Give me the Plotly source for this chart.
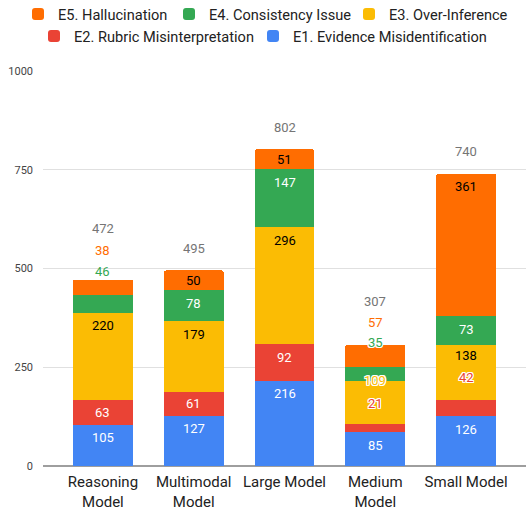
import plotly.graph_objects as go

# ---- data ----
categories = ["Reasoning Model", "Multimodal Model", "Large Model", "Medium Model", "Small Model"]
tick_labels = ["Reasoning<br>Model", "Multimodal<br>Model", "Large Model", "Medium<br>Model", "Small Model"]

series_names = [
    "E1. Evidence Misidentification",
    "E2. Rubric Misinterpretation",
    "E3. Over-Inference",
    "E4. Consistency Issue",
    "E5. Hallucination",
]
e1_values = [105, 127, 216, 85, 126]
e2_values = [63, 61, 92, 21, 42]
e3_values = [220, 179, 296, 109, 138]
e4_values = [46, 78, 147, 35, 73]
e5_values = [38, 50, 51, 57, 361]

y_ticks = [0, 250, 500, 750, 1000]

# ---- styling ----
FONT = "Roboto, Arial, sans-serif"
colors = ["#4285F4", "#EA4335", "#FBBC04", "#34A853", "#FF6D01"]
inside_text_colors = ["#FFFFFF", "#FFFFFF", "#000000", "#FFFFFF", "#000000"]
HALO = ("-1px -1px 0 #fff, 1px -1px 0 #fff, -1px 1px 0 #fff, 1px 1px 0 #fff, "
        "0 1px 0 #fff, 0 -1px 0 #fff, 1px 0 0 #fff, -1px 0 0 #fff")

W, H = 531, 511
M_L, M_R, M_T, M_B = 43, 5, 71, 45
PLOT_W = W - M_L - M_R
PLOT_H = H - M_T - M_B
PX_PER_UNIT = PLOT_H / 1000  # plot height / y range

# legend entries laid out in two centred rows (E5 E4 E3 / E2 E1):
# (legend id, left edge of the entry text in px, row centre in px), E1..E5
legend_slots = [
    ("legend6", 286, 36),
    ("legend5", 67, 36),
    ("legend4", 382, 14),
    ("legend3", 202, 14),
    ("legend2", 51, 14),
]

# label placement tweaks: pixel offset of the label centre above the segment top,
# and whether the label is drawn in the series colour with a white halo
label_tweaks = {
    ("Reasoning Model", 3): (23, False),
    ("Reasoning Model", 4): (29, False),
    ("Medium Model", 1): (21, True),
    ("Medium Model", 2): (1, True),
    ("Medium Model", 3): (25, True),
    ("Medium Model", 4): (22, False),
    ("Small Model", 1): (22, True),
}
inside_shift_override = {("Small Model", 2): -10}
total_shift = {"Reasoning Model": 51, "Medium Model": 43}

all_values = [e1_values, e2_values, e3_values, e4_values, e5_values]

fig = go.Figure()
for j, (name, vals) in enumerate(zip(series_names, all_values)):
    fig.add_trace(go.Bar(
        x=categories, y=vals, name=name,
        marker=dict(color=colors[j], line=dict(width=0)),
        legend=legend_slots[j][0],
        showlegend=True,
        hoverinfo="skip",
    ))

annotations = []
for i, cat in enumerate(categories):
    base = 0
    for j, vals in enumerate(all_values):
        v = vals[i]
        top = base + v
        key = (cat, j)
        if key in label_tweaks:
            shift, halo = label_tweaks[key]
            font = dict(family=FONT, size=13, color=colors[j])
            if halo:
                font["shadow"] = HALO
            annotations.append(dict(x=cat, y=top, yshift=shift, text=str(v),
                                    showarrow=False, yanchor="middle", font=font))
        else:
            if key in inside_shift_override:
                y, shift = top, inside_shift_override[key]
            elif v * PX_PER_UNIT < 26:
                y, shift = base + v / 2, 0
            else:
                y, shift = top, -13
            annotations.append(dict(x=cat, y=y, yshift=shift, text=str(v),
                                    showarrow=False, yanchor="middle",
                                    font=dict(family=FONT, size=13, color=inside_text_colors[j])))
        base = top
    annotations.append(dict(x=cat, y=base, yshift=total_shift.get(cat, 22), text=str(base),
                            showarrow=False, yanchor="middle",
                            font=dict(family=FONT, size=13, color="#757575")))


def legend_box(text_left_px, row_center_px):
    left_px = text_left_px - 33
    return dict(orientation="h", xref="paper", yref="paper",
                x=(left_px - M_L) / PLOT_W, xanchor="left",
                y=1 + (M_T - row_center_px) / PLOT_H, yanchor="middle",
                font=dict(family=FONT, size=14.6, color="#222222"),
                bgcolor="rgba(0,0,0,0)", itemwidth=30)


legends = {lid: legend_box(tx, ty) for lid, tx, ty in legend_slots}

fig.update_layout(
    barmode="stack",
    bargap=0.34,
    barcornerradius=2,
    width=W, height=H,
    showlegend=True,
    margin=dict(l=M_L, r=M_R, t=M_T, b=M_B, pad=0, autoexpand=False),
    paper_bgcolor="#FFFFFF", plot_bgcolor="#FFFFFF",
    font=dict(family=FONT, color="#222222"),
    annotations=annotations,
    xaxis=dict(range=[-0.66, 4.66], tickmode="array", tickvals=categories, ticktext=tick_labels,
               showgrid=False, showline=False, ticks="", zeroline=False, automargin=False,
               tickfont=dict(family=FONT, size=15, color="#222222"), ticklabelstandoff=5),
    yaxis=dict(range=[0, 1000], tickmode="array", tickvals=y_ticks,
               showgrid=True, gridcolor="#E0E0E0", gridwidth=1,
               zeroline=True, zerolinecolor="#9E9E9E", zerolinewidth=1.5,
               showline=False, ticks="", ticklabelstandoff=9, automargin=False,
               tickfont=dict(family=FONT, size=11, color="#444444")),
    **legends,
)

fig.write_html("out.html", config={"displayModeBar": False})
